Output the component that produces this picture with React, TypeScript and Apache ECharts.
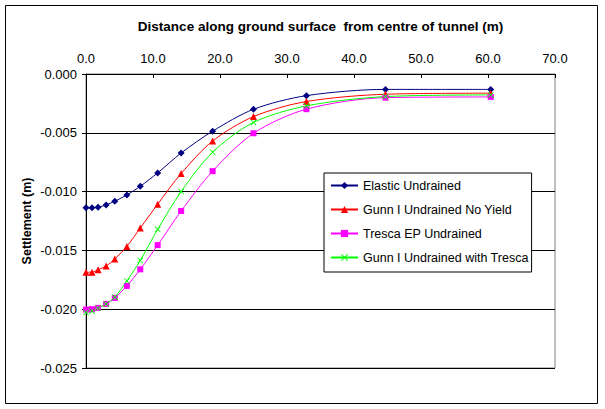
import { useEffect, useRef } from "react";
import * as echarts from "echarts";

const FONT = "'Liberation Sans', Arial, sans-serif";

// distance from tunnel centre (m)
const distance = [0, 0.9, 1.8, 3.0, 4.3, 6.1, 8.1, 10.7, 14.2, 18.9, 25.0, 32.9, 44.7, 60.4];

const elasticUndrained = [
  -0.01138, -0.01138, -0.01133, -0.01113, -0.01082, -0.01028, -0.00955, -0.00841, -0.00672,
  -0.00486, -0.003, -0.00184, -0.00131, -0.00131,
];
const gunnNoYield = [
  -0.01686, -0.01686, -0.01664, -0.01633, -0.01573, -0.01466, -0.0131, -0.01107, -0.00846,
  -0.0057, -0.00362, -0.00234, -0.00172, -0.00163,
];
const trescaEP = [
  -0.02003, -0.02, -0.01989, -0.01955, -0.01904, -0.01802, -0.01661, -0.01455, -0.01165,
  -0.00826, -0.00504, -0.00299, -0.00201, -0.00195,
];
const gunnWithTresca = [
  -0.02028, -0.02017, -0.01992, -0.01955, -0.01898, -0.0176, -0.01585, -0.01321, -0.01,
  -0.00665, -0.00412, -0.00271, -0.00192, -0.00178,
];

const SERIES = [
  { name: "Elastic Undrained", data: elasticUndrained, color: "#000080", symbol: "diamond", size: 7 },
  { name: "Gunn I Undrained No Yield", data: gunnNoYield, color: "#ff0000", symbol: "triangle", size: 7 },
  { name: "Tresca EP Undrained", data: trescaEP, color: "#ff00ff", symbol: "rect", size: 6 },
  {
    name: "Gunn I Undrained with Tresca",
    data: gunnWithTresca,
    color: "#00ff00",
    symbol: "path://M0,1L1,0L5,4L9,0L10,1L6,5L10,9L9,10L5,6L1,10L0,9L4,5Z",
    size: 6,
  },
];

export default function App() {
  const ref = useRef<HTMLDivElement>(null);

  useEffect(() => {
    if (!ref.current) return;
    const chart = echarts.init(ref.current, null, { renderer: "svg" });
    chart.setOption({
      animation: false,
      backgroundColor: "#fff",
      textStyle: { fontFamily: FONT },
      graphic: [
        {
          type: "rect",
          shape: { x: 5.5, y: 5.5, width: 592, height: 398 },
          style: { fill: "none", stroke: "#000", lineWidth: 1 },
          silent: true,
        },
      ],
      grid: {
        left: 86,
        right: 50,
        top: 74,
        bottom: 41,
        show: true,
        borderColor: "#808080",
        borderWidth: 1,
        backgroundColor: "#fff",
      },
      legend: {
        orient: "vertical",
        left: 324,
        top: 173,
        itemWidth: 27,
        itemHeight: 9,
        itemGap: 11,
        padding: [6, 3, 8, 6],
        borderColor: "#000",
        borderWidth: 1,
        backgroundColor: "#fff",
        textStyle: { fontSize: 12.5, color: "#000", fontFamily: FONT },
        data: SERIES.map((s) => s.name),
      },
      xAxis: {
        type: "value",
        position: "top",
        min: 0,
        max: 70,
        interval: 10,
        name: "Distance along ground surface  from centre of tunnel (m)",
        nameLocation: "middle",
        nameGap: 41,
        nameMoveOverlap: false,
        nameTextStyle: { fontSize: 13.5, fontWeight: "bold", color: "#000", fontFamily: FONT },
        axisLine: { lineStyle: { color: "#000", width: 1 } },
        axisTick: { show: true, inside: true, length: 4, lineStyle: { color: "#000" } },
        axisLabel: {
          fontSize: 13,
          color: "#000",
          margin: 9,
          fontFamily: FONT,
          formatter: (v: number) => v.toFixed(1),
        },
        splitLine: { show: false },
      },
      yAxis: {
        type: "value",
        min: -0.025,
        max: 0,
        interval: 0.005,
        name: "Settlement (m)",
        nameLocation: "middle",
        nameGap: 53,
        nameMoveOverlap: false,
        nameTextStyle: { fontSize: 12.5, fontWeight: "bold", color: "#000", fontFamily: FONT },
        axisLine: { show: true, lineStyle: { color: "#000", width: 1 } },
        axisTick: { show: true, length: 4, lineStyle: { color: "#000" } },
        axisLabel: {
          fontSize: 13,
          color: "#000",
          margin: 9,
          fontFamily: FONT,
          formatter: (v: number) => v.toFixed(3),
        },
        splitLine: { show: true, lineStyle: { color: "#000", width: 1 } },
      },
      series: SERIES.map((s) => ({
        name: s.name,
        type: "line",
        smooth: 0.3,
        symbol: s.symbol,
        symbolSize: s.size,
        showAllSymbol: true,
        data: distance.map((d, i) => [d, s.data[i]]),
        lineStyle: { color: s.color, width: 1 },
        itemStyle: { color: s.color, borderWidth: 0 },
        emphasis: { disabled: true },
      })),
    });
    return () => chart.dispose();
  }, []);

  return (
    <div
      ref={ref}
      style={{ position: "fixed", left: 0, top: 0, width: 605, height: 409 }}
    />
  );
}
